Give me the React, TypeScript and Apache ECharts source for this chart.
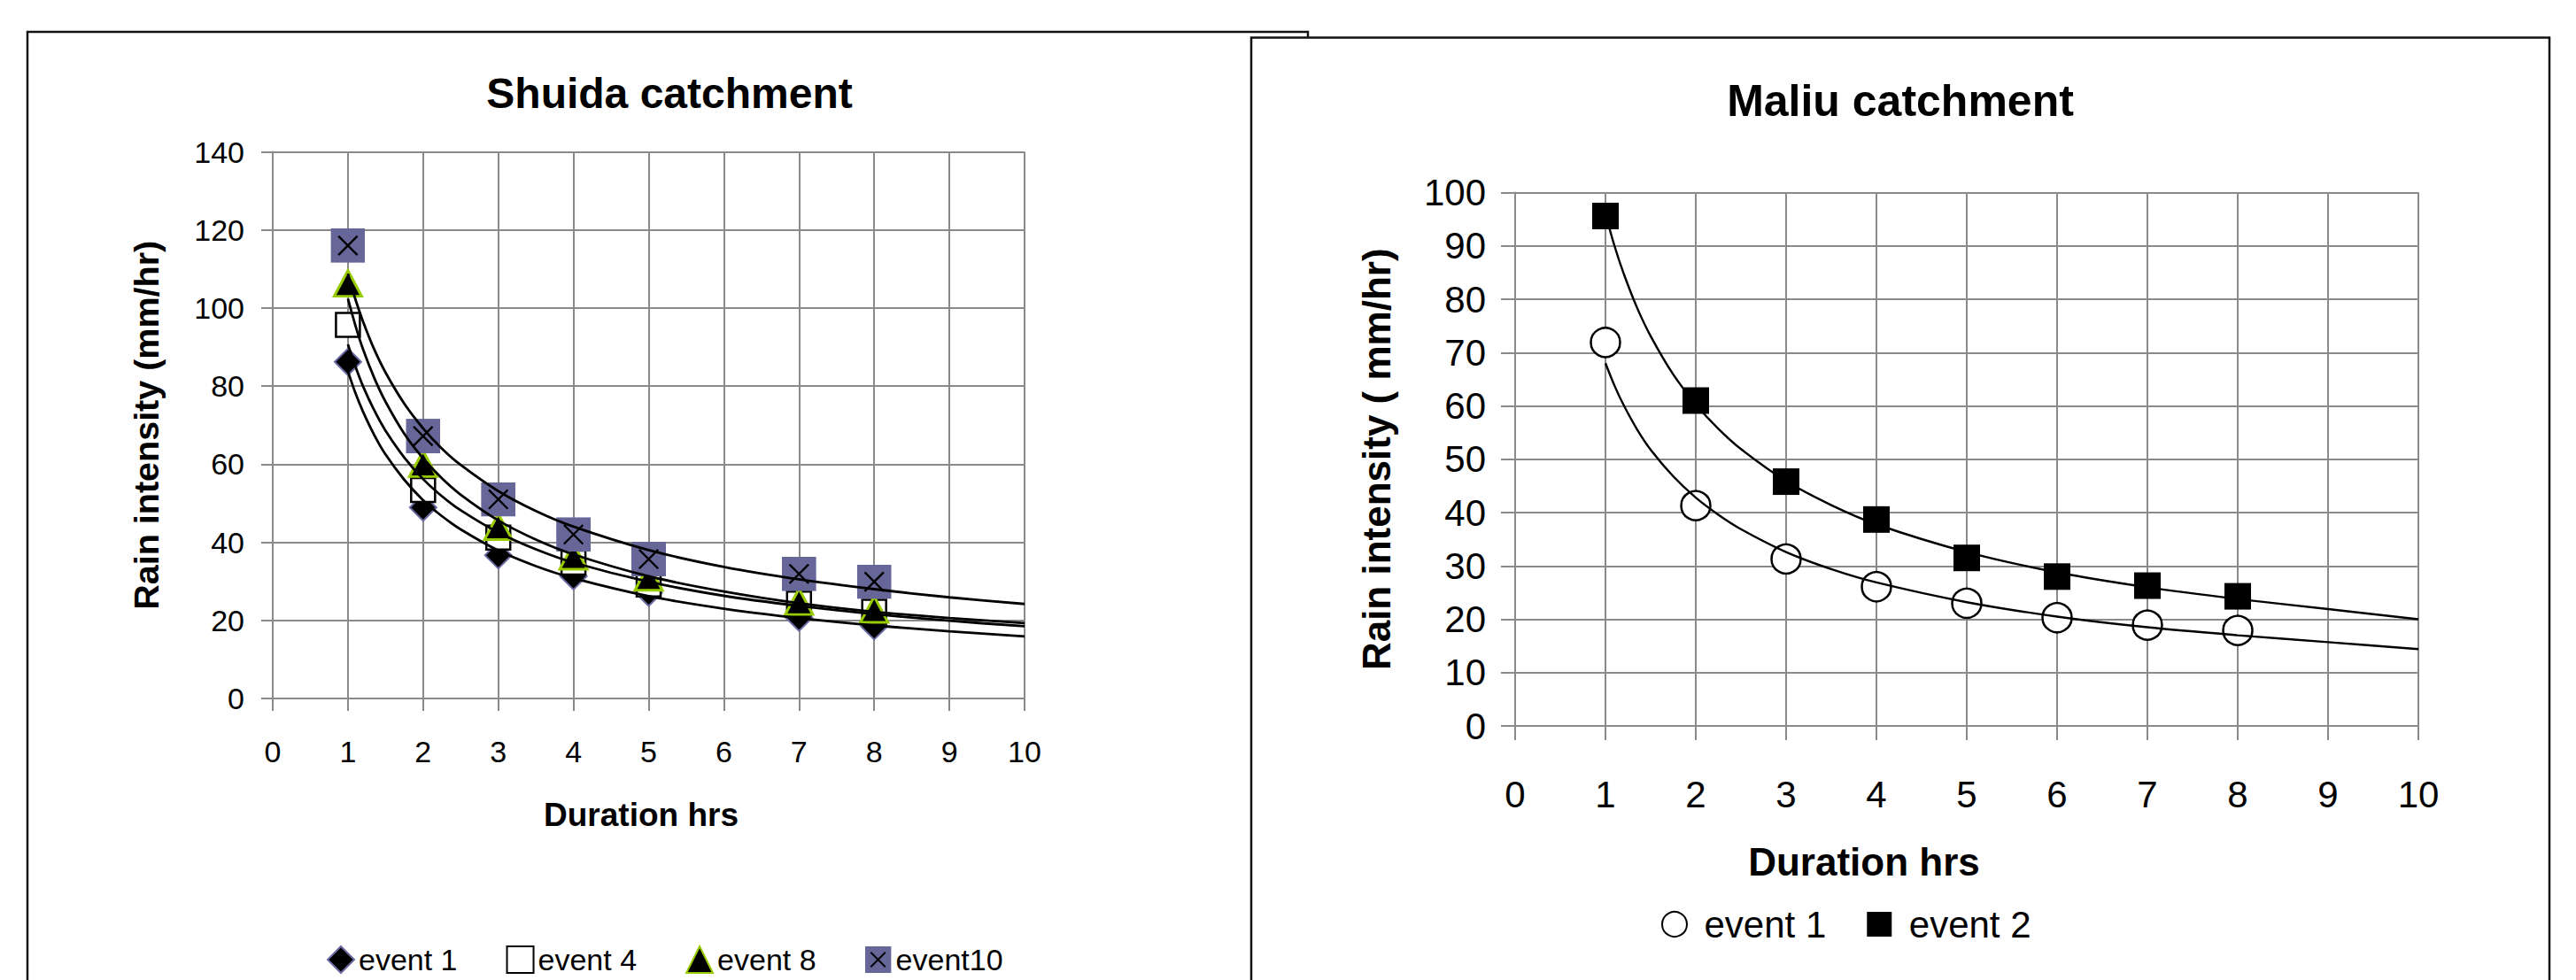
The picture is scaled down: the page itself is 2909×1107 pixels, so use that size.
import React, { useEffect, useRef } from 'react';
import * as echarts from 'echarts';

// ---------------- DATA ----------------
const X_MIN = 0;
const X_MAX = 10;

// Shuida catchment (durations in hrs, intensities in mm/hr)
const SHUIDA_X = [1, 2, 3, 4, 5, 7, 8];
const SHUIDA_EVENT1 = [86.2, 48.9, 36.7, 31.3, 27.1, 20.7, 18.5];
const SHUIDA_EVENT4 = [95.7, 53.4, 41.2, 34.8, 29.2, 24.3, 22.2];
const SHUIDA_EVENT8 = [106.3, 60.1, 44.0, 36.4, 31.0, 24.8, 22.8];
const SHUIDA_EVENT10 = [116.0, 67.2, 51.0, 42.0, 35.7, 31.9, 29.9];

// trend curves
const TREND_X = [1, 1.1, 1.2, 1.35, 1.5, 1.75, 2, 2.25, 2.5, 3, 3.5, 4, 5, 6, 7, 8, 9, 10];
const SHUIDA_TREND1 = [83.8, 78.2, 73.5, 67.5, 62.5, 56.0, 50.8, 46.7, 43.3, 37.9, 33.9, 30.8, 26.2, 23.0, 20.6, 18.7, 17.2, 15.9];
const SHUIDA_TREND4 = [90.7, 85.0, 80.0, 73.8, 68.6, 61.7, 56.2, 51.8, 48.2, 42.5, 38.2, 34.8, 29.9, 26.3, 23.7, 21.6, 19.9, 18.5];
const SHUIDA_TREND8 = [102.4, 95.5, 89.5, 82.1, 76.0, 67.8, 61.5, 56.4, 52.2, 45.6, 40.7, 36.9, 31.3, 27.4, 24.4, 22.2, 20.6, 19.3];
const SHUIDA_TREND10 = [108.8, 102.2, 96.6, 89.4, 83.5, 75.5, 69.2, 64.0, 59.8, 53.1, 48.0, 44.0, 38.0, 33.7, 30.5, 28.0, 25.9, 24.2];

// Maliu catchment
const MALIU_X = [1, 2, 3, 4, 5, 6, 7, 8];
const MALIU_EVENT1 = [71.9, 41.3, 31.3, 26.1, 23.0, 20.3, 18.9, 17.9];
const MALIU_EVENT2 = [95.6, 61.0, 45.8, 38.7, 31.5, 28.0, 26.3, 24.3];
const MALIU_TREND1 = [68.0, 63.8, 60.2, 55.6, 51.8, 46.8, 42.8, 39.6, 36.9, 32.6, 29.4, 26.9, 23.2, 20.5, 18.5, 17.0, 15.7, 14.4];
const MALIU_TREND2 = [96.0, 90.0, 84.9, 78.4, 73.1, 65.9, 60.3, 55.7, 51.9, 45.9, 41.4, 37.8, 32.6, 28.8, 26.0, 23.8, 21.9, 20.0];

const SHUIDA_LEGEND = ['event 1', 'event 4', 'event 8', 'event10'];
const MALIU_LEGEND = ['event 1', 'event 2'];

// ---------------- STYLE ----------------
const FONT = '"Liberation Sans", Arial, sans-serif';
const GRID_GRAY = '#8a8a8a';
const BOX = '#111';

const EVENT10_SVG =
  '<svg xmlns="http://www.w3.org/2000/svg" width="40" height="40" viewBox="0 0 40 40">' +
  '<rect x="0" y="0" width="40" height="40" fill="#666699"/>' +
  '<path d="M9 9L31 31M31 9L9 31" stroke="#000" stroke-width="2.4" fill="none"/></svg>';
const EVENT10_SYMBOL = 'image://data:image/svg+xml;charset=utf-8,' + encodeURIComponent(EVENT10_SVG);
const SQUARE_SYMBOL = 'path://M0 0H10V10H0Z';

function pairs(xs: number[], ys: number[]) {
  return xs.map((x, i) => [x, ys[i]]);
}

function axisCommon(o: any) {
  return {
    type: 'value',
    nameLocation: 'middle',
    axisLine: { show: true, onZero: false, lineStyle: { color: GRID_GRAY, width: 2 } },
    axisTick: { show: true, inside: false, length: o.tickLen, lineStyle: { color: GRID_GRAY, width: 2 } },
    axisLabel: { show: true, margin: o.labelMargin, color: '#000', fontFamily: FONT, fontSize: o.labelSize },
    splitLine: { show: true, lineStyle: { color: GRID_GRAY, width: 2 } },
    nameTextStyle: {
      color: '#000',
      fontFamily: FONT,
      fontWeight: 'bold',
      fontSize: o.nameSize,
      padding: o.namePadding || 0,
    },
  };
}

function trendSeries(name: string, ys: number[], width: number) {
  return {
    type: 'line',
    name,
    data: pairs(TREND_X, ys),
    smooth: 0.3,
    showSymbol: false,
    symbol: 'none',
    silent: true,
    z: 5,
    lineStyle: { color: '#000', width },
    emphasis: { disabled: true },
  };
}

const leftOption: any = {
  animation: false,
  backgroundColor: 'transparent',
  graphic: [
    {
      type: 'rect',
      z: -10,
      silent: true,
      shape: { x: 31, y: 36, width: 1446, height: 1200 },
      style: { fill: '#fff', stroke: BOX, lineWidth: 2.5 },
    },
  ],
  title: {
    text: 'Shuida catchment',
    left: 751,
    top: 76,
    textAlign: 'center',
    textStyle: { fontFamily: FONT, fontSize: 48, fontWeight: 'bold', color: '#000' },
  },
  grid: { left: 308, top: 171.5, width: 849, height: 617.5, containLabel: false, outerBoundsMode: 'none' },
  xAxis: {
    ...axisCommon({ tickLen: 14, labelMargin: 43, labelSize: 34, nameSize: 37, namePadding: [0, 17, 0, 0] }),
    min: X_MIN,
    max: X_MAX,
    interval: 1,
    name: 'Duration hrs',
    nameGap: 113,
  },
  yAxis: {
    ...axisCommon({ tickLen: 13, labelMargin: 32, labelSize: 34, nameSize: 39.5 }),
    min: 0,
    max: 140,
    interval: 20,
    name: 'Rain intensity (mm/hr)',
    nameGap: 123,
  },
  legend: {
    data: SHUIDA_LEGEND,
    left: 369,
    top: 1067,
    padding: 0,
    itemWidth: 30,
    itemHeight: 30,
    itemGap: 55,
    selectedMode: false,
    textStyle: { fontFamily: FONT, fontSize: 34, color: '#000' },
  },
  series: [
    {
      type: 'scatter',
      name: 'event 1',
      data: pairs(SHUIDA_X, SHUIDA_EVENT1),
      symbol: 'diamond',
      symbolSize: [30, 30],
      z: 2,
      itemStyle: { color: '#000', borderColor: '#6b6ba3', borderWidth: 2, opacity: 1 },
    },
    {
      type: 'scatter',
      name: 'event 4',
      data: pairs(SHUIDA_X, SHUIDA_EVENT4),
      symbol: SQUARE_SYMBOL,
      symbolSize: [27, 27],
      z: 2,
      itemStyle: { color: '#fff', borderColor: '#000', borderWidth: 2.5, opacity: 1 },
    },
    {
      type: 'scatter',
      name: 'event 8',
      data: pairs(SHUIDA_X, SHUIDA_EVENT8),
      symbol: 'triangle',
      symbolSize: [31, 29],
      z: 2,
      itemStyle: { color: '#000', borderColor: '#99cc00', borderWidth: 3, opacity: 1 },
    },
    {
      type: 'scatter',
      name: 'event10',
      data: pairs(SHUIDA_X, SHUIDA_EVENT10),
      symbol: EVENT10_SYMBOL,
      symbolSize: [39, 39],
      z: 2,
      itemStyle: { color: '#666699', opacity: 1 },
    },
    trendSeries('trend event 1', SHUIDA_TREND1, 2.8),
    trendSeries('trend event 4', SHUIDA_TREND4, 2.8),
    trendSeries('trend event 8', SHUIDA_TREND8, 2.8),
    trendSeries('trend event10', SHUIDA_TREND10, 2.8),
  ],
};

const RIGHT_OFFSET = 1400;

const rightOption: any = {
  animation: false,
  backgroundColor: 'transparent',
  graphic: [
    {
      type: 'rect',
      z: -10,
      silent: true,
      shape: { x: 1413 - RIGHT_OFFSET, y: 42.5, width: 1466, height: 1200 },
      style: { fill: '#fff', stroke: BOX, lineWidth: 2.5 },
    },
  ],
  title: {
    text: 'Maliu catchment',
    left: 2141 - RIGHT_OFFSET,
    top: 84,
    textAlign: 'center',
    textStyle: { fontFamily: FONT, fontSize: 50, fontWeight: 'bold', color: '#000' },
  },
  grid: {
    left: 1711 - RIGHT_OFFSET,
    top: 217.5,
    width: 1020,
    height: 602.5,
    containLabel: false,
    outerBoundsMode: 'none',
  },
  xAxis: {
    ...axisCommon({ tickLen: 16, labelMargin: 56, labelSize: 42, nameSize: 44, namePadding: [0, 232, 0, 0] }),
    min: X_MIN,
    max: X_MAX,
    interval: 1,
    name: 'Duration hrs',
    nameGap: 131,
  },
  yAxis: {
    ...axisCommon({ tickLen: 16, labelMargin: 33, labelSize: 42, nameSize: 44 }),
    min: 0,
    max: 100,
    interval: 10,
    name: 'Rain intensity ( mm/hr)',
    nameGap: 135,
  },
  legend: {
    data: MALIU_LEGEND,
    left: 1876 - RIGHT_OFFSET,
    top: 1023,
    padding: 0,
    itemWidth: 57,
    itemHeight: 28,
    itemGap: 46,
    selectedMode: false,
    textStyle: { fontFamily: FONT, fontSize: 42, color: '#000' },
  },
  series: [
    {
      type: 'scatter',
      name: 'event 1',
      data: pairs(MALIU_X, MALIU_EVENT1),
      symbol: 'circle',
      symbolSize: 33,
      z: 2,
      itemStyle: { color: '#fff', borderColor: '#000', borderWidth: 2.5, opacity: 1 },
    },
    {
      type: 'scatter',
      name: 'event 2',
      data: pairs(MALIU_X, MALIU_EVENT2),
      symbol: SQUARE_SYMBOL,
      symbolSize: 30,
      z: 2,
      itemStyle: { color: '#000', opacity: 1 },
    },
    trendSeries('trend event 1', MALIU_TREND1, 2.4),
    trendSeries('trend event 2', MALIU_TREND2, 2.4),
  ],
};

function ChartBox({ option, style }: { option: any; style: React.CSSProperties }) {
  const ref = useRef<HTMLDivElement | null>(null);
  useEffect(() => {
    if (!ref.current) return;
    const chart = echarts.init(ref.current, null, { renderer: 'svg' });
    chart.setOption(option);
    return () => {
      chart.dispose();
    };
  }, [option]);
  return <div ref={ref} style={style} />;
}

export default function App() {
  return (
    <div
      style={{
        position: 'absolute',
        left: 0,
        top: 0,
        width: 2909,
        height: 1107,
        overflow: 'hidden',
        background: '#fff',
      }}
    >
      <ChartBox option={leftOption} style={{ position: 'absolute', left: 0, top: 0, width: 1490, height: 1107 }} />
      <ChartBox
        option={rightOption}
        style={{ position: 'absolute', left: RIGHT_OFFSET, top: 0, width: 1509, height: 1107 }}
      />
    </div>
  );
}
